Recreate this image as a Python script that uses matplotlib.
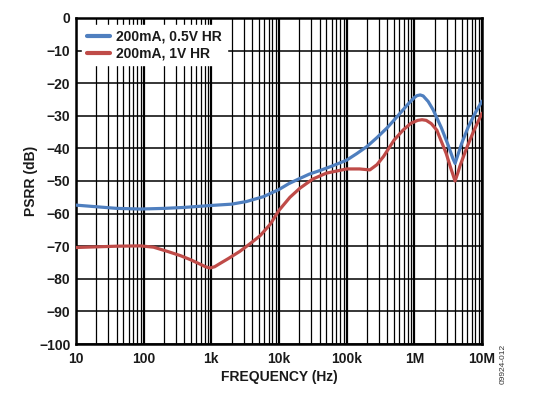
import matplotlib
matplotlib.use("Agg")
import matplotlib.pyplot as plt
from matplotlib.ticker import FixedLocator, NullFormatter, LogLocator

plt.rcParams['font.family'] = ['Liberation Sans', 'DejaVu Sans']

# ---- data ----
blue_label = "200mA, 0.5V HR"
blue_freq = [10, 20, 40, 90, 200, 400, 1000, 2000, 3300, 5900, 10000, 14000,
             20400, 28000, 40000, 63000, 100e3, 141e3, 200e3, 280e3, 400e3,
             560e3, 800e3, 1e6, 1.1e6, 1.22e6, 1.35e6, 1.6e6, 1.9e6, 2.5e6,
             3.16e6, 3.7e6, 4e6, 4.4e6, 5e6, 6.3e6, 8e6, 10e6]
blue_db = [-57.4, -57.9, -58.4, -58.6, -58.4, -58.1, -57.5, -57.1, -56.3, -54.8,
           -52.6, -50.8, -49.2, -47.9, -46.8, -45.3, -43.6, -41.6, -39.4, -36.7,
           -33.6, -30.2, -26.5, -24.4, -23.8, -23.6, -23.9, -25.6, -28.2, -33.6,
           -39.0, -43.0, -44.6, -42.0, -38.5, -33.3, -29.0, -25.5]

red_label = "200mA, 1V HR"
red_freq = [10, 20, 40, 90, 140, 225, 350, 500, 680, 820, 950, 1120, 1320, 1780,
            2630, 3700, 5250, 7400, 10000, 14500, 20400, 31600, 50000, 100e3,
            155e3, 220e3, 280e3, 350e3, 500e3, 680e3, 890e3, 1.12e6, 1.3e6,
            1.5e6, 1.78e6, 2.15e6, 2.95e6, 3.55e6, 4e6, 4.4e6, 4.7e6, 5.9e6,
            7.6e6, 10e6]
red_db = [-70.4, -70.2, -70.0, -69.9, -70.3, -71.6, -72.9, -74.2, -75.5, -76.3,
          -76.7, -76.3, -75.4, -73.8, -71.6, -69.3, -66.8, -63.3, -59.0, -55.0,
          -52.2, -49.4, -47.6, -46.3, -46.3, -46.6, -45.0, -42.5, -37.5, -34.4,
          -32.3, -31.4, -31.2, -31.4, -32.4, -34.4, -41.5, -46.8, -50.0, -47.5,
          -45.5, -40.0, -34.5, -29.2]

x_ticks = [10, 100, 1e3, 1e4, 1e5, 1e6, 1e7]
x_ticklabels = ["10", "100", "1k", "10k", "100k", "1M", "10M"]
y_ticks = list(range(-100, 1, 10))
y_ticklabels = ["0" if v == 0 else "\u2212%d" % -v for v in y_ticks]

# ---- figure ----
fig = plt.figure(figsize=(5.42, 3.94), dpi=100)
L, R, T, B = 76, 482, 18, 344
W, H = 542, 394
ax = fig.add_axes([L / W, 1 - B / H, (R - L) / W, (B - T) / H])

blue_c = "#4F7FBF"
red_c = "#BF4B48"
ax.plot(blue_freq, blue_db, color=blue_c, lw=2.3, label=blue_label,
        solid_joinstyle='round', solid_capstyle='round', zorder=3)
ax.plot(red_freq, red_db, color=red_c, lw=2.3, label=red_label,
        solid_joinstyle='round', solid_capstyle='round', zorder=3)

ax.set_xscale('log')
ax.set_xlim(10, 1e7)
ax.set_ylim(-100, 0)
ax.xaxis.set_major_locator(FixedLocator(x_ticks))
ax.set_xticklabels(x_ticklabels)
ax.xaxis.set_minor_locator(LogLocator(base=10, subs=range(2, 10), numticks=20))
ax.xaxis.set_minor_formatter(NullFormatter())
ax.set_yticks(y_ticks)
ax.set_yticklabels(y_ticklabels)

ax.grid(which='major', axis='x', color='black', lw=1.6)
ax.grid(which='minor', axis='x', color='black', lw=0.9)
ax.grid(which='major', axis='y', color='black', lw=1.1)
ax.set_axisbelow(True)

for s in ax.spines.values():
    s.set_linewidth(1.8)
    s.set_color('black')

ax.tick_params(which='both', length=0)
ax.tick_params(axis='x', pad=6)
ax.tick_params(axis='y', pad=4)
for lab in ax.get_xticklabels() + ax.get_yticklabels():
    lab.set_fontsize(10)
    lab.set_fontweight('bold')
    lab.set_color('#1a1a1a')

ax.set_xlabel("FREQUENCY (Hz)", fontsize=10, fontweight='bold', color='#1a1a1a', labelpad=3)
ax.set_ylabel("PSRR (dB)", fontsize=10, fontweight='bold', color='#1a1a1a', labelpad=1)

leg = ax.legend(loc='upper left', bbox_to_anchor=((82 - L) / (R - L), 1 - (25 - T) / (B - T)),
                borderaxespad=0, frameon=True, fancybox=False, framealpha=1,
                edgecolor='white', facecolor='white', handlelength=1.7,
                handletextpad=0.4, labelspacing=0.2, borderpad=0.35,
                prop={'family': 'Liberation Sans', 'weight': 'bold', 'size': 10})
for line in leg.get_lines():
    line.set_linewidth(3)
for t in leg.get_texts():
    t.set_color('#1a1a1a')

fig.text(503 / W, 1 - 364 / H, "09924-012", rotation=90, fontsize=6,
         ha='center', va='center', color='#333333')

fig.savefig("out.png", dpi=100)
